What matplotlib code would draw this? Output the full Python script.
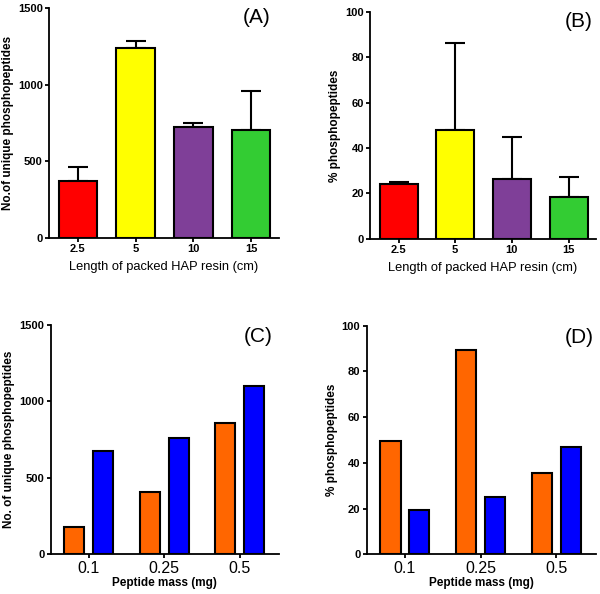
import matplotlib
matplotlib.use("Agg")
import matplotlib.pyplot as plt
import numpy as np

plt.rcParams['font.family'] = ['Liberation Sans', 'DejaVu Sans']

# Panels A/B data
lengths = ['2.5', '5', '10', '15']
colors_ab = ['#FF0000', '#FFFF00', '#7F3F98', '#33CC33']
unique_counts = [372, 1241, 722, 704]
unique_err = [95, 46, 28, 253]
pct_phospho = [24.1, 47.8, 26.5, 18.5]
pct_err = [0.8, 38.5, 18.2, 8.7]

# Panels C/D data
masses = ['0.1', '0.25', '0.5']
unique_orange = [176, 409, 858]
unique_blue = [673, 758, 1097]
pct_orange = [49.4, 89.2, 35.7]
pct_blue = [19.4, 24.9, 46.8]
orange = '#FF6600'
blue = '#0000FF'

fig = plt.figure(figsize=(6, 5.94), dpi=100)

def style(ax):
    for s in ['top', 'right']:
        ax.spines[s].set_visible(False)
    for s in ['left', 'bottom']:
        ax.spines[s].set_linewidth(1.3)
    ax.tick_params(direction='out', width=1.3, length=3, pad=1.5)
    for lab in ax.get_yticklabels():
        lab.set_fontweight('bold')
        lab.set_fontsize(8)

def panel_ab(rect, vals, errs, ylim, yticks, ylabel, tag, tagx):
    ax = fig.add_axes(rect)
    x = np.arange(len(lengths))
    ax.bar(x, vals, width=0.67, color=colors_ab, edgecolor='black', linewidth=1.5, zorder=2)
    ax.errorbar(x, vals, yerr=[np.zeros(len(errs)), errs], fmt='none', ecolor='black',
                elinewidth=1.5, capsize=7, capthick=1.5, zorder=1)
    ax.set_xlim(-0.5, 3.48)
    ax.set_ylim(*ylim)
    ax.set_yticks(yticks)
    ax.set_xticks(x)
    ax.set_xticklabels(lengths, fontweight='bold', fontsize=8)
    ax.set_ylabel(ylabel, fontweight='bold', fontsize=8.5, labelpad=3)
    ax.set_xlabel('Length of packed HAP resin (cm)', fontsize=9.3, labelpad=5)
    style(ax)
    ax.text(tagx, 1.0, tag, transform=ax.transAxes, ha='right', va='top', fontsize=15)
    return ax

def panel_cd(rect, v1, v2, ylim, yticks, ylabel, tag, tagx):
    ax = fig.add_axes(rect)
    x = np.arange(len(masses))
    w = 0.265
    ax.bar(x - 0.19, v1, width=w, color=orange, edgecolor='black', linewidth=1.5)
    ax.bar(x + 0.19, v2, width=w, color=blue, edgecolor='black', linewidth=1.5)
    ax.set_xlim(-0.505, 2.52)
    ax.set_ylim(*ylim)
    ax.set_yticks(yticks)
    ax.set_xticks(x)
    ax.set_xticklabels(masses, fontsize=11.5)
    ax.set_ylabel(ylabel, fontweight='bold', fontsize=8.5, labelpad=3)
    ax.set_xlabel('Peptide mass (mg)', fontweight='bold', fontsize=8.5, labelpad=1)
    style(ax)
    ax.text(tagx, 0.99, tag, transform=ax.transAxes, ha='right', va='top', fontsize=15)
    return ax

panel_ab([0.0817, 0.599, 0.383, 0.3875], unique_counts, unique_err, (0, 1500),
         [0, 500, 1000, 1500], 'No.of unique phosphopeptides', '(A)', 0.965)
panel_ab([0.617, 0.598, 0.376, 0.382], pct_phospho, pct_err, (0, 100),
         [0, 20, 40, 60, 80, 100], '% phosphopeptides', '(B)', 0.985)
panel_cd([0.0845, 0.0668, 0.3805, 0.3866], unique_orange, unique_blue, (0, 1500),
         [0, 500, 1000, 1500], 'No. of unique phosphopeptides', '(C)', 0.97)
panel_cd([0.611, 0.0668, 0.382, 0.385], pct_orange, pct_blue, (0, 100),
         [0, 20, 40, 60, 80, 100], '% phosphopeptides', '(D)', 0.99)

fig.savefig('out.png', dpi=100)
